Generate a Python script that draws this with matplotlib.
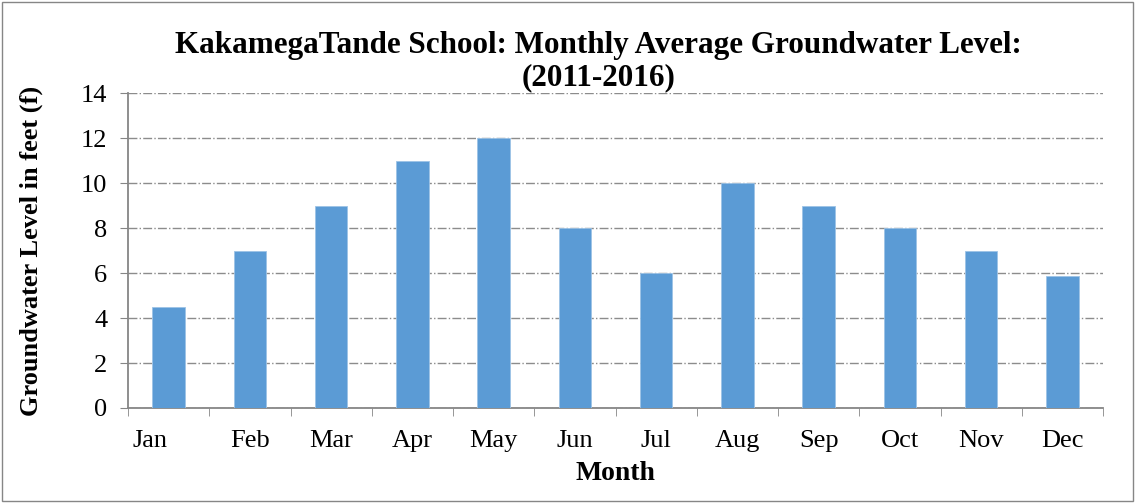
import numpy as np
import matplotlib.pyplot as plt
import matplotlib.transforms as mtransforms
from matplotlib.patches import Rectangle

months = ["Jan", "Feb", "Mar", "Apr", "May", "Jun",
          "Jul", "Aug", "Sep", "Oct", "Nov", "Dec"]
levels = [4.5, 7, 9, 11, 12, 8, 6, 10, 9, 8, 7, 5.85]
yticks = [0, 2, 4, 6, 8, 10, 12, 14]

plt.rcParams['font.family'] = ['Liberation Serif', 'DejaVu Serif']

fig = plt.figure(figsize=(11.36, 5.03), dpi=100)
ax = fig.add_axes([0.1127, 0.1889, 0.8583, 0.626])

x = np.arange(len(months))
ax.bar(x, levels, width=0.4, color='#5b9bd5', edgecolor='#9dc3e6', linewidth=0.6, zorder=3)

ax.set_xlim(-0.5, len(months) - 0.5)
ax.set_ylim(0, 14)
ax.set_yticks(yticks)
ax.set_yticklabels([str(t) for t in yticks], fontsize=19)
ax.set_xticks(x)
ax.set_xticklabels(months, fontsize=19)
ax.set_xticks(np.arange(-0.5, len(months)), minor=True)
ax.tick_params(axis='x', which='major', length=0, pad=16)
ax.tick_params(axis='x', which='minor', length=6, color='#868686', direction='out')
ax.tick_params(axis='y', length=6, color='#868686', direction='out', pad=9)

# Excel places the first label a bit left of its bar
jan = ax.get_xticklabels()[0]
jan.set_transform(jan.get_transform() + mtransforms.ScaledTranslation(-0.19, 0, fig.dpi_scale_trans))

ax.grid(axis='y', color='#8c8c8c', linestyle='-.', linewidth=1, zorder=0)
for s in ['top', 'right']:
    ax.spines[s].set_visible(False)
for s in ['left', 'bottom']:
    ax.spines[s].set_color('#868686')
    ax.spines[s].set_linewidth(1.3)

ax.set_xlabel("Month", fontsize=20, fontweight='bold', labelpad=6)
ax.set_ylabel("Groundwater Level in feet (f)", fontsize=19, fontweight='bold', labelpad=27)
fig.text(0.527, 0.877, "KakamegaTande School: Monthly Average Groundwater Level:\n(2011-2016)",
         ha='center', va='center', fontsize=22.4, fontweight='bold', linespacing=1.15)

fig.patches.append(Rectangle((0.002, 0.003), 0.995, 0.993, transform=fig.transFigure,
                             fill=False, edgecolor='#868686', linewidth=1))

fig.savefig("out.png", dpi=100)
